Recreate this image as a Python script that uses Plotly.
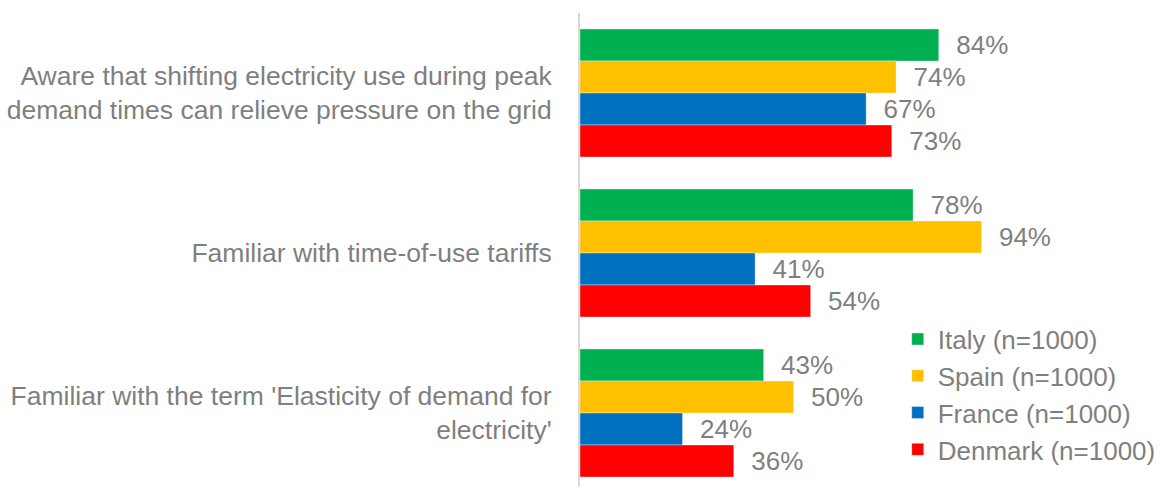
import plotly.graph_objects as go

# Survey statements (top to bottom)
statements = [
    "Aware that shifting electricity use during peak<br>demand times can relieve pressure on the grid",
    "Familiar with time-of-use tariffs",
    "Familiar with the term 'Elasticity of demand for<br>electricity'",
]

# Share of respondents (%) per country
italy = [84, 78, 43]
spain = [74, 94, 50]
france = [67, 41, 24]
denmark = [73, 54, 36]

series_names = ["Italy (n=1000)", "Spain (n=1000)", "France (n=1000)", "Denmark (n=1000)"]
series_values = [italy, spain, france, denmark]
series_colors = ["#00B050", "#FFC000", "#0070C0", "#FF0000"]

TEXT_GREY = "#7f7f7f"
FONT = "Liberation Sans, Arial, sans-serif"
FS = 26

positions = list(range(len(statements)))

fig = go.Figure()
for name, vals, color in zip(series_names, series_values, series_colors):
    fig.add_trace(go.Bar(
        y=positions,
        x=vals,
        orientation="h",
        name=name,
        marker=dict(color=color, line=dict(color="rgba(255,255,255,0.6)", width=0.6)),
        text=[f"\u00a0\u00a0{v}%" for v in vals],
        textposition="outside",
        constraintext="none",
        textfont=dict(size=FS, color=TEXT_GREY, family=FONT),
        cliponaxis=False,
        hoverinfo="skip",
    ))

fig.update_layout(
    width=1163,
    height=487,
    margin=dict(l=580, r=0, t=13, b=0, autoexpand=False),
    paper_bgcolor="white",
    plot_bgcolor="white",
    barmode="group",
    bargap=0.2,
    bargroupgap=0,
    font=dict(family=FONT, size=FS, color=TEXT_GREY),
    showlegend=True,
    legend=dict(
        x=0.545,
        xanchor="left",
        y=0.195,
        yanchor="middle",
        bgcolor="rgba(0,0,0,0)",
        font=dict(size=FS, color=TEXT_GREY, family=FONT),
        traceorder="normal",
        itemclick=False,
        itemdoubleclick=False,
    ),
    xaxis=dict(
        range=[0, 136.5],
        showgrid=False,
        zeroline=False,
        showticklabels=False,
        showline=False,
        fixedrange=True,
        automargin=False,
    ),
    yaxis=dict(
        range=[2.4625, -0.5],
        tickmode="array",
        tickvals=positions,
        ticktext=statements,
        showgrid=False,
        zeroline=False,
        showline=True,
        linecolor="#d9d9d9",
        linewidth=2,
        ticks="outside",
        ticklen=21,
        tickcolor="rgba(0,0,0,0)",
        tickfont=dict(size=26.5, color=TEXT_GREY, family=FONT),
        fixedrange=True,
        automargin=False,
    ),
)

fig.write_html("out.html")
